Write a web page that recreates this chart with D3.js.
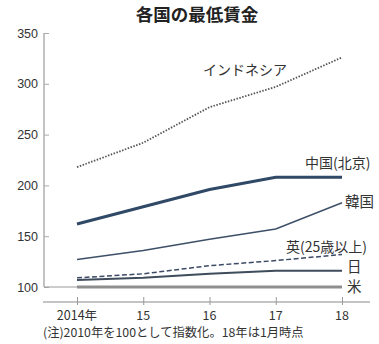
<!DOCTYPE html>
<html><head><meta charset="utf-8">
<script src="https://cdn.jsdelivr.net/npm/d3@7"></script>
<style>
body{margin:0;background:#fff;}
svg{display:block;font-family:"Noto Sans CJK JP","Noto Sans",sans-serif;}
</style></head>
<body><svg id="c" width="379" height="344"></svg>
<script>
const years = [2014, 2015, 2016, 2017, 2018];
const yearLabels = ["2014年", "15", "16", "17", "18"];
const yTicks = [100, 150, 200, 250, 300, 350];
const indonesia = [218, 242, 277, 297, 326];
const china = [162, 179, 196, 208, 208];
const korea = [127, 136, 147, 157, 183];
const uk = [109, 113, 121, 126, 132];
const japan = [107, 109, 113, 116, 116];
const us = [100, 100, 100, 100, 100];
const seriesNames = ["インドネシア", "中国(北京)", "韓国", "英(25歳以上)", "日", "米"];

const svg = d3.select("#c");
const x = d3.scaleLinear().domain([2014, 2018]).range([77, 342]);
const y = d3.scaleLinear().domain([100, 350]).range([287, 33]);

svg.append("text").attr("x", 197).attr("y", 21).attr("text-anchor", "middle")
  .attr("font-size", 17.5).attr("font-weight", "bold").attr("fill", "#222").text("各国の最低賃金");

// y axis
const ya = svg.append("g").attr("transform", "translate(44,0)")
  .call(d3.axisRight(y).tickValues(yTicks).tickSize(5).tickFormat(""));
ya.select(".domain").attr("stroke", "#888").attr("d", `M0,${y(350)}V${y(100)}`);
ya.selectAll(".tick line").attr("stroke", "#aaa");
svg.selectAll(".ylab").data(yTicks).join("text").attr("class", "ylab")
  .attr("x", 38).attr("y", d => y(d) + 4.5).attr("text-anchor", "end")
  .attr("font-size", 12.5).attr("fill", "#333").attr("font-family", "Liberation Sans Narrow, Liberation Sans, sans-serif")
  .text(d => d);

// x axis
const xa = svg.append("g").attr("transform", "translate(0,302)")
  .call(d3.axisBottom(x).tickValues(years).tickSize(4).tickFormat(""));
xa.select(".domain").attr("stroke", "#888").attr("d", "M43,0H370");
xa.selectAll(".tick line").attr("stroke", "#999").attr("y1", -5).attr("y2", 3);
svg.selectAll(".xlab").data(years).join("text").attr("class", "xlab")
  .attr("x", (d, i) => x(d)).attr("y", 320).attr("text-anchor", "middle")
  .attr("font-size", 12.5).attr("fill", "#333").text((d, i) => yearLabels[i]);

svg.append("text").attr("x", 43).attr("y", 337).attr("font-size", 12.3).attr("fill", "#333")
  .text("(注)2010年を100として指数化。18年は1月時点");

const line = d3.line().x((d, i) => x(years[i])).y(d => y(d));
// baseline at 100
svg.append("line").attr("x1", 44).attr("x2", x(2018)).attr("y1", y(100)).attr("y2", y(100))
  .attr("stroke", "#999").attr("stroke-width", 1);

const styles = [
  {d: us, stroke: "#8f8f8f", w: 3, dash: null},
  {d: japan, stroke: "#3e4c5c", w: 2, dash: null},
  {d: uk, stroke: "#3c4a66", w: 1.5, dash: "5,2.5"},
  {d: korea, stroke: "#3e5068", w: 1.6, dash: null},
  {d: china, stroke: "#2f4966", w: 3, dash: null},
  {d: indonesia, stroke: "#555", w: 1.8, dash: "1.5,1.5"}
];
styles.forEach(s => {
  svg.append("path").datum(s.d).attr("d", line).attr("fill", "none")
    .attr("stroke", s.stroke).attr("stroke-width", s.w)
    .attr("stroke-dasharray", s.dash);
});

const labels = [
  {t: seriesNames[0], x: 203, y: 75, s: 14},
  {t: seriesNames[1], x: 305, y: 168, s: 14},
  {t: seriesNames[2], x: 345, y: 207, s: 14.5},
  {t: seriesNames[3], x: 286, y: 252, s: 14},
  {t: seriesNames[4], x: 347, y: 272, s: 14.5},
  {t: seriesNames[5], x: 347, y: 292, s: 14.5}
];
svg.selectAll(".slab").data(labels).join("text").attr("class", "slab")
  .attr("x", d => d.x).attr("y", d => d.y).attr("font-size", d => d.s).attr("fill", "#333")
  .text(d => d.t);
</script></body></html>
